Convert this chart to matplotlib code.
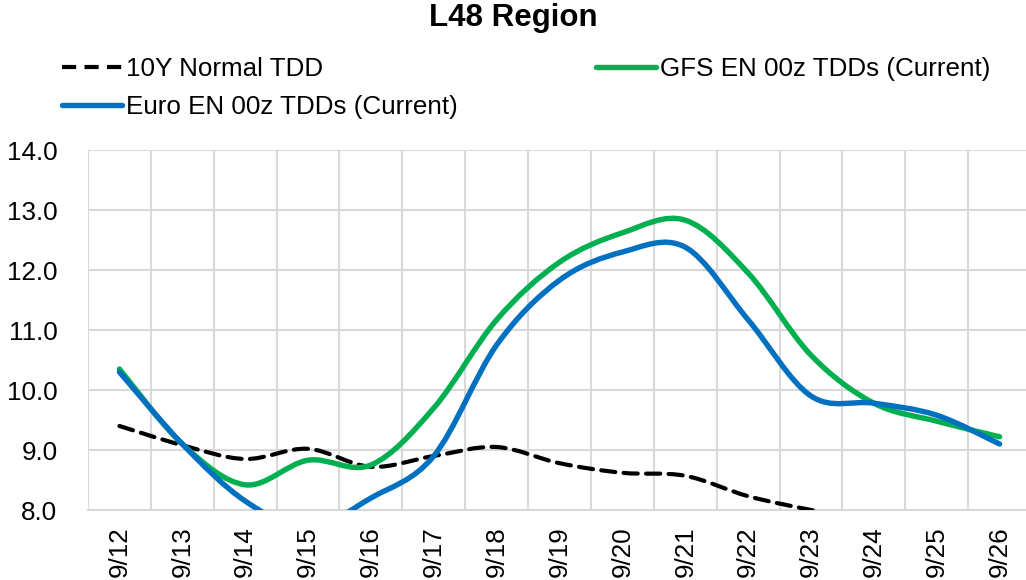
import matplotlib
matplotlib.use("Agg")
import matplotlib.pyplot as plt
import numpy as np
from matplotlib.lines import Line2D
from matplotlib.patches import PathPatch
from matplotlib.path import Path
from matplotlib.ticker import MultipleLocator, FixedLocator

plt.rcParams["font.family"] = ["Liberation Sans", "DejaVu Sans"]

dates = ["9/12", "9/13", "9/14", "9/15", "9/16", "9/17", "9/18", "9/19",
         "9/20", "9/21", "9/22", "9/23", "9/24", "9/25", "9/26"]
normal_tdd = [9.40, 9.08, 8.85, 9.02, 8.72, 8.90, 9.05, 8.78,
              8.62, 8.57, 8.23, 8.00, 7.80, 7.65, 7.50]
gfs_tdd = [10.35, 9.10, 8.42, 8.83, 8.75, 9.70, 11.17, 12.13,
           12.62, 12.83, 11.95, 10.58, 9.78, 9.48, 9.22]
euro_tdd = [10.30, 9.10, 8.15, 7.70, 8.20, 8.90, 10.75, 11.83,
            12.30, 12.38, 11.17, 9.90, 9.78, 9.58, 9.10]

GREEN = "#00B050"
BLUE = "#0070C0"
GRID = "#D9D9D9"
FS = 18.7
DASH = (0, (3.4, 2.0))


def smooth_path(xs, ys):
    # Excel-style smoothed line: cubic Bezier segments through the data points
    pts = np.column_stack([xs, ys]).astype(float)
    n = len(pts)
    verts = [pts[0]]
    codes = [Path.MOVETO]
    for i in range(n - 1):
        p0 = pts[max(i - 1, 0)]
        p1 = pts[i]
        p2 = pts[i + 1]
        p3 = pts[min(i + 2, n - 1)]
        verts += [p1 + (p2 - p0) / 6, p2 - (p3 - p1) / 6, p2]
        codes += [Path.CURVE4] * 3
    return Path(verts, codes)


fig = plt.figure(figsize=(10.26, 5.8), dpi=100)
ax = fig.add_axes([88 / 1026, 1 - 510 / 580, 1 - 88 / 1026, 360 / 580])

x = np.arange(len(dates))
series = [
    (normal_tdd, "black", DASH, 3.0),
    (gfs_tdd, GREEN, "solid", 3.9),
    (euro_tdd, BLUE, "solid", 3.9),
]
for vals, col, ls, lw in series:
    patch = PathPatch(smooth_path(x, vals), facecolor="none", edgecolor=col,
                      linewidth=lw, linestyle=ls, capstyle="round", zorder=3)
    ax.add_patch(patch)

ax.set_xlim(-0.5, 14.42)
ax.set_ylim(8.0, 14.0)
ax.yaxis.set_major_locator(MultipleLocator(1.0))
ax.yaxis.set_major_formatter(lambda v, _p: f"{v:.1f}")
ax.set_xticks(x)
ax.set_xticklabels(dates, rotation=90)
ax.xaxis.set_minor_locator(FixedLocator(np.arange(-0.5, 15, 1.0)))
ax.grid(True, which="minor", axis="x", color=GRID, linewidth=1.5)
ax.grid(True, which="major", axis="y", color=GRID, linewidth=1.5)
ax.set_axisbelow(True)
ax.tick_params(axis="both", which="both", length=0, labelsize=FS)
ax.tick_params(axis="y", pad=22)
ax.tick_params(axis="x", pad=12)
for s in ax.spines.values():
    s.set_visible(False)
ax.spines["bottom"].set_visible(True)
ax.spines["bottom"].set_color(GRID)
ax.spines["bottom"].set_linewidth(1.5)

fig.text(0.5, 1 - 18 / 580, "L48 Region", ha="center", va="center",
         fontsize=22.5, fontweight="bold")

handles = [
    Line2D([], [], color="black", linestyle=DASH, linewidth=3.0),
    Line2D([], [], color=BLUE, linewidth=3.9, solid_capstyle="round"),
    Line2D([], [], color=GREEN, linewidth=3.9, solid_capstyle="round"),
]
labels = ["10Y Normal TDD", "Euro EN 00z TDDs (Current)", "GFS EN 00z TDDs (Current)"]
fig.legend(handles, labels, loc="upper left", bbox_to_anchor=(62 / 1026, 1 - 57 / 580),
           ncol=2, frameon=False, fontsize=FS, borderpad=0, borderaxespad=0,
           handlelength=2.3, handletextpad=0.15, columnspacing=5.35, labelspacing=0.55)

fig.savefig("out.png", dpi=100)
